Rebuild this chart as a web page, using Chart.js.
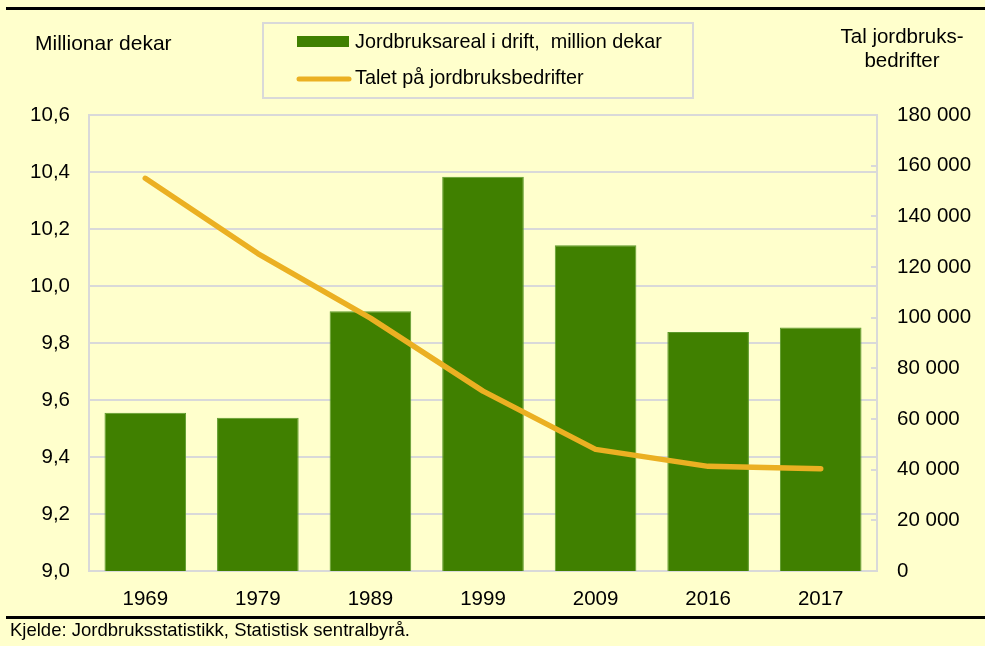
<!DOCTYPE html>
<html>
<head>
<meta charset="utf-8">
<script src="https://cdn.jsdelivr.net/npm/chart.js@4"></script>
<style>
  html, body { margin: 0; padding: 0; background: #ffffcc; }
  #wrap { width: 985px; height: 646px; position: relative; }
</style>
</head>
<body>
<div id="wrap"><canvas id="chart" width="985" height="646"></canvas></div>
<script>
// data
const years = ['1969', '1979', '1989', '1999', '2009', '2016', '2017'];
const areal = [9.555, 9.538, 9.911, 10.383, 10.143, 9.839, 9.854]; // million dekar
const bedrifter = [155000, 125300, 99800, 71000, 48000, 41300, 40400];
const leftTicks = [9.0, 9.2, 9.4, 9.6, 9.8, 10.0, 10.2, 10.4, 10.6];
const rightTicks = [0, 20000, 40000, 60000, 80000, 100000, 120000, 140000, 160000, 180000];

const arealLabel = 'Jordbruksareal i drift,  million dekar';
const bedrLabel = 'Talet på jordbruksbedrifter';
const leftTitle = 'Millionar dekar';
const rightTitle = ['Tal jordbruks-', 'bedrifter'];
const source = 'Kjelde: Jordbruksstatistikk, Statistisk sentralbyrå.';

const GREEN = '#408000';
const GOLD = '#ebb022';
const GRID = '#d9d9d9';
const FONT = '"Liberation Sans", Arial, sans-serif';

// inner tick marks on right axis, titles, legend box and the frame rules
const decor = {
  id: 'decor',
  afterDatasetsDraw(chart) {
    const ctx = chart.ctx;
    const y2 = chart.scales.y2;
    ctx.save();
    ctx.strokeStyle = GRID;
    ctx.lineWidth = 2;
    rightTicks.forEach(v => {
      const y = Math.round(y2.getPixelForValue(v));
      ctx.beginPath();
      ctx.moveTo(y2.left - 6, y);
      ctx.lineTo(y2.left, y);
      ctx.stroke();
    });
    ctx.restore();
  },
  afterDraw(chart) {
    const ctx = chart.ctx;
    ctx.save();
    // rules
    ctx.fillStyle = '#000';
    ctx.fillRect(6, 7, 979, 3);
    ctx.fillRect(6, 616, 979, 3);

    ctx.fillStyle = '#000';
    ctx.textBaseline = 'middle';
    ctx.font = '21px ' + FONT;
    ctx.textAlign = 'left';
    ctx.fillText(leftTitle, 35, 44);
    ctx.font = '20.5px ' + FONT;
    ctx.textAlign = 'center';
    ctx.fillText(rightTitle[0], 902, 37);
    ctx.fillText(rightTitle[1], 902, 61);

    // legend
    const bars = chart.data.datasets.find(d => d.type === 'bar');
    const line = chart.data.datasets.find(d => d.type === 'line');
    ctx.strokeStyle = GRID;
    ctx.lineWidth = 2;
    ctx.strokeRect(263, 23, 430, 75);
    ctx.fillStyle = bars.backgroundColor;
    ctx.fillRect(297, 36, 52, 11);
    ctx.strokeStyle = line.borderColor;
    ctx.lineWidth = 5;
    ctx.lineCap = 'round';
    ctx.beginPath();
    ctx.moveTo(299, 79);
    ctx.lineTo(349, 79);
    ctx.stroke();
    ctx.fillStyle = '#000';
    ctx.textAlign = 'left';
    ctx.font = '19.8px ' + FONT;
    ctx.fillText(bars.label, 355, 43);
    ctx.fillText(line.label, 355, 79);

    // source
    ctx.font = '18.5px ' + FONT;
    ctx.fillText(source, 10, 631);
    ctx.restore();
  }
};

new Chart(document.getElementById('chart'), {
  data: {
    labels: years,
    datasets: [
      {
        type: 'line',
        label: bedrLabel,
        data: bedrifter,
        yAxisID: 'y2',
        borderColor: GOLD,
        borderWidth: 5.5,
        borderCapStyle: 'round',
        borderJoinStyle: 'round',
        pointRadius: 0,
        tension: 0,
        order: 0
      },
      {
        type: 'bar',
        label: arealLabel,
        data: areal,
        yAxisID: 'y',
        backgroundColor: GREEN,
        borderColor: '#5c9a2c',
        borderWidth: 1,
        barPercentage: 0.725,
        categoryPercentage: 1,
        order: 1
      }
    ]
  },
  options: {
    responsive: false,
    animation: false,
    layout: { padding: { left: 0, right: 0, top: 115, bottom: 35 } },
    plugins: { legend: { display: false }, tooltip: { enabled: false } },
    scales: {
      x: {
        grid: { display: false, drawTicks: false },
        border: { color: GRID, width: 2 },
        ticks: { color: '#000', font: { family: FONT, size: 20.5 }, padding: 16 },
        afterFit(s) { s.height = 40; }
      },
      y: {
        position: 'left',
        min: 9.0,
        max: 10.6,
        afterBuildTicks(s) { s.ticks = leftTicks.map(v => ({ value: v })); },
        grid: { color: GRID, lineWidth: 2, drawTicks: false },
        border: { color: GRID, width: 2 },
        ticks: {
          color: '#000',
          font: { family: FONT, size: 20.5 },
          padding: 19,
          callback: v => v.toFixed(1).replace('.', ',')
        },
        afterFit(s) { s.width = 89; }
      },
      y2: {
        position: 'right',
        min: 0,
        max: 180000,
        afterBuildTicks(s) { s.ticks = rightTicks.map(v => ({ value: v })); },
        grid: { drawOnChartArea: false, drawTicks: false },
        border: { color: GRID, width: 2 },
        ticks: {
          color: '#000',
          font: { family: FONT, size: 20.5 },
          padding: 20,
          callback: v => String(v).replace(/\B(?=(\d{3})+(?!\d))/g, ' ')
        },
        afterFit(s) { s.width = 108; }
      }
    }
  },
  plugins: [decor]
});
</script>
</body>
</html>
